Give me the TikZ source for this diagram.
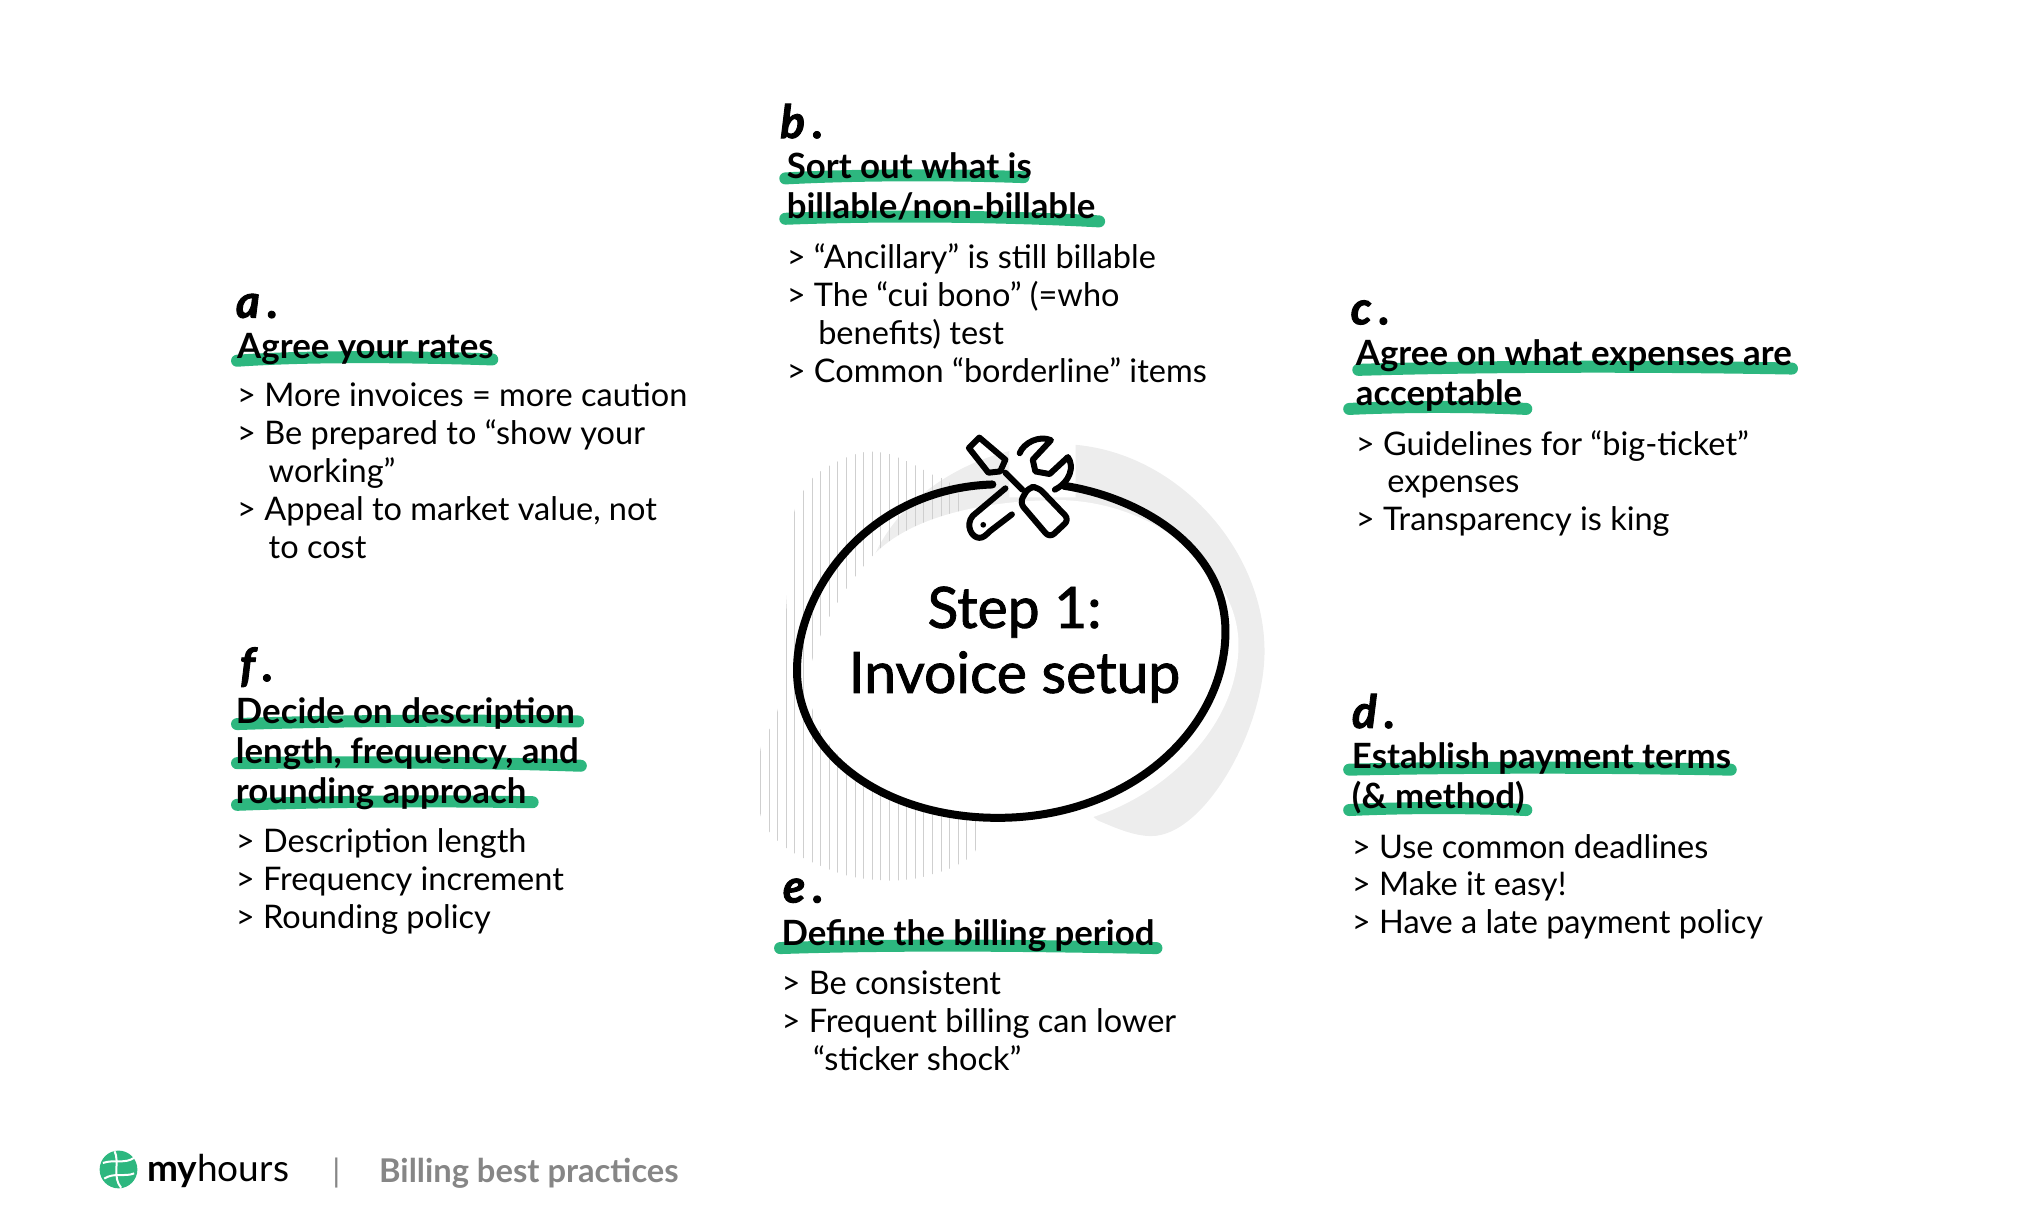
\documentclass[tikz,border=0pt]{standalone}
\usepackage{fontspec}
\setmainfont{Lato}
\newfontfamily\midfont[FakeBold=1.5]{Lato}
\newfontfamily\letterfont[FakeBold=2]{Lato}
\usetikzlibrary{positioning}
\definecolor{markgreen}{HTML}{2DB77F}
\definecolor{blobgrey}{HTML}{EDEDED}
\definecolor{hatchgrey}{HTML}{CFCFCF}
\definecolor{footgrey}{HTML}{868686}
\newcommand{\ind}{\hspace*{31.5pt}}

\begin{document}
\begin{tikzpicture}[x=1.3023pt,y=-1.3023pt]

\tikzset{letter/.style = {anchor=base west,inner sep=0,font=\fontsize{46}{46}\selectfont\letterfont\bfseries\itshape}}
\tikzset{head/.style = {anchor=base west,inner sep=0,align=left,font=\fontsize{34.8}{40}\selectfont\bfseries}}
\tikzset{item/.style = {anchor=base west,inner sep=0,align=left,font=\fontsize{32.5}{37.8}\selectfont}}
\tikzset{marker/.style = {draw=markgreen,line width=12pt,line cap=round}}
\tikzset{icon/.style = {draw=black,line width=6pt,line cap=round,line join=round}}

\useasboundingbox (0,0) rectangle (1568,929.1);

%backdrop
\fill[blobgrey] (670,430) .. controls (690,380) and (750,342) .. (815,341) .. controls (900,342) and (971,420) .. (971,500) .. controls (971,560) and (925,642) .. (884,642) .. controls (870,642) and (855,635) .. (843,630) -- (700,520) -- cycle;
\begin{scope}
\clip plot[smooth cycle,tension=0.5] coordinates {(605,425) (611,389) (625,366) (646,353) (665,347) (684,349) (711,362) (739,385) (760,500) (752,639) (739,662) (706,674) (678,676) (646,671) (605,652) (584,626) (584,575) (598,541) (605,445)};
\foreach \hx in {584,590.6,...,760} {
  \draw[hatchgrey,line width=1.1pt] (\hx,340) -- (\hx,680);
}
\end{scope}
\fill[white] (670,427) .. controls (700,395) and (760,384) .. (815,384) .. controls (890,386) and (951,440) .. (951,495) .. controls (951,560) and (890,615) .. (830,630) .. controls (740,640) and (630,610) .. (621,530) .. controls (620,500) and (640,460) .. (670,427);
\fill[white] (775,335) -- (826,338) -- (826,382) -- (775,382) -- cycle;

%outline
\draw[draw=black,line width=8pt,line cap=round] (817,373) .. controls (875,382) and (941,420) .. (941,485) .. controls (941,558) and (870,628) .. (766,628) .. controls (680,628) and (612,580) .. (612,515) .. controls (612,450) and (670,375) .. (762,372);

%tools
\draw[icon] (752,336) -- (744,344) -- (759,363) -- (768,362) -- (772,353) -- cycle;
\draw[icon] (772,363) -- (785,376);
\draw[icon,rounded corners=6pt] (790,374) -- (783,386) -- (806,413) -- (821,399) -- (797,374) -- cycle;
\draw[icon] (783,348) .. controls (786,340) and (798,334) .. (807,338) -- (793,353) -- (795,362) -- (806,364) -- (820,351) .. controls (825,358) and (822,370) .. (810,376);
\draw[icon] (772,375) -- (747,396) .. controls (741,403) and (746,413) .. (752,413) .. controls (755,413) and (757,411) .. (760,408) -- (777,395);
\fill[black] (755,403) circle (2.2);

%markers
\draw[marker] (182,277) .. controls (240,273) and (320,274) .. (378,276);
\draw[marker] (603,137) .. controls (660,134) and (730,134) .. (786,136);
\draw[marker] (603,168) .. controls (680,165) and (770,166) .. (844,170);
\draw[marker] (1043,284) .. controls (1150,281) and (1270,281) .. (1376,283);
\draw[marker] (1036,314) .. controls (1080,312) and (1130,312) .. (1172,314);
\draw[marker] (1036,591) .. controls (1130,589) and (1230,589) .. (1329,591);
\draw[marker] (1036,622) .. controls (1080,620) and (1130,620) .. (1172,622);
\draw[marker] (599,728) .. controls (690,725) and (790,726) .. (888,728);
\draw[marker] (182,556) .. controls (270,553) and (360,553) .. (444,554);
\draw[marker] (182,586) .. controls (270,585) and (360,585) .. (446,588);
\draw[marker] (182,618) .. controls (260,615) and (340,615) .. (409,616);

%centre
\node[inner sep=0,align=center,font=\fontsize{57}{65}\selectfont\midfont] (centre) at (779,495) {Step 1:\\Invoice setup};

%blocks
\node[letter] (la) at (181,244) {a\,.};
\node[head] (ha) at (182,275) {Agree your rates};
\node[item] (ia) at (182,428.5) {> More invoices = more caution\\> Be prepared to “show your\\\ind working”\\> Appeal to market value, not\\\ind to cost};

\node[letter] (lb) at (599,106) {b\,.};
\node[head] (hb) at (604,168) {Sort out what is\\billable/non-billable};
\node[item] (ib) at (604,293.5) {> “Ancillary” is still billable\\> The “cui bono” (=who\\\ind benefits) test\\> Common “borderline” items};

\node[letter] (lc) at (1037,249) {c\,.};
\node[head] (hc) at (1041,311) {Agree on what expenses are\\acceptable};
\node[item] (ic) at (1041,407.5) {> Guidelines for “big-ticket”\\\ind expenses\\> Transparency is king};

\node[letter] (ld) at (1038,559) {d\,.};
\node[head] (hd) at (1038,620.5) {Establish payment terms\\(\& method)};
\node[item] (id) at (1038,717) {> Use common deadlines\\> Make it easy!\\> Have a late payment policy};

\node[letter] (le) at (601,693) {e\,.};
\node[head] (he) at (600,726) {Define the billing period};
\node[item] (ie) at (600,822) {> Be consistent\\> Frequent billing can lower\\\ind “sticker shock”};

\node[letter] (lf) at (184,523) {f\,.};
\node[head] (hf) at (181,617) {Decide on description\\length, frequency, and\\rounding approach};
\node[item] (if) at (181,713) {> Description length\\> Frequency increment\\> Rounding policy};

%footer
\fill[markgreen] (91,898) circle (14.5);
\draw[white,line width=2pt] (79,893) .. controls (88,890) and (96,894) .. (103,889);
\draw[white,line width=2pt] (80,905) .. controls (88,900) and (96,904) .. (103,901);
\draw[white,line width=2pt] (88,884) .. controls (92,892) and (86,904) .. (93,912);
\node[anchor=base west,inner sep=0,font=\fontsize{37}{38}\selectfont] (brand) at (113,907) {\textbf{my}hours};
\node[anchor=base west,inner sep=0,text=footgrey,font=\fontsize{32}{32}\selectfont] (bar) at (255,908) {|};
\node[anchor=base west,inner sep=0,text=footgrey,font=\fontsize{32.7}{33}\selectfont\bfseries] (foot) at (291,908) {Billing best practices};

\end{tikzpicture}
\end{document}
